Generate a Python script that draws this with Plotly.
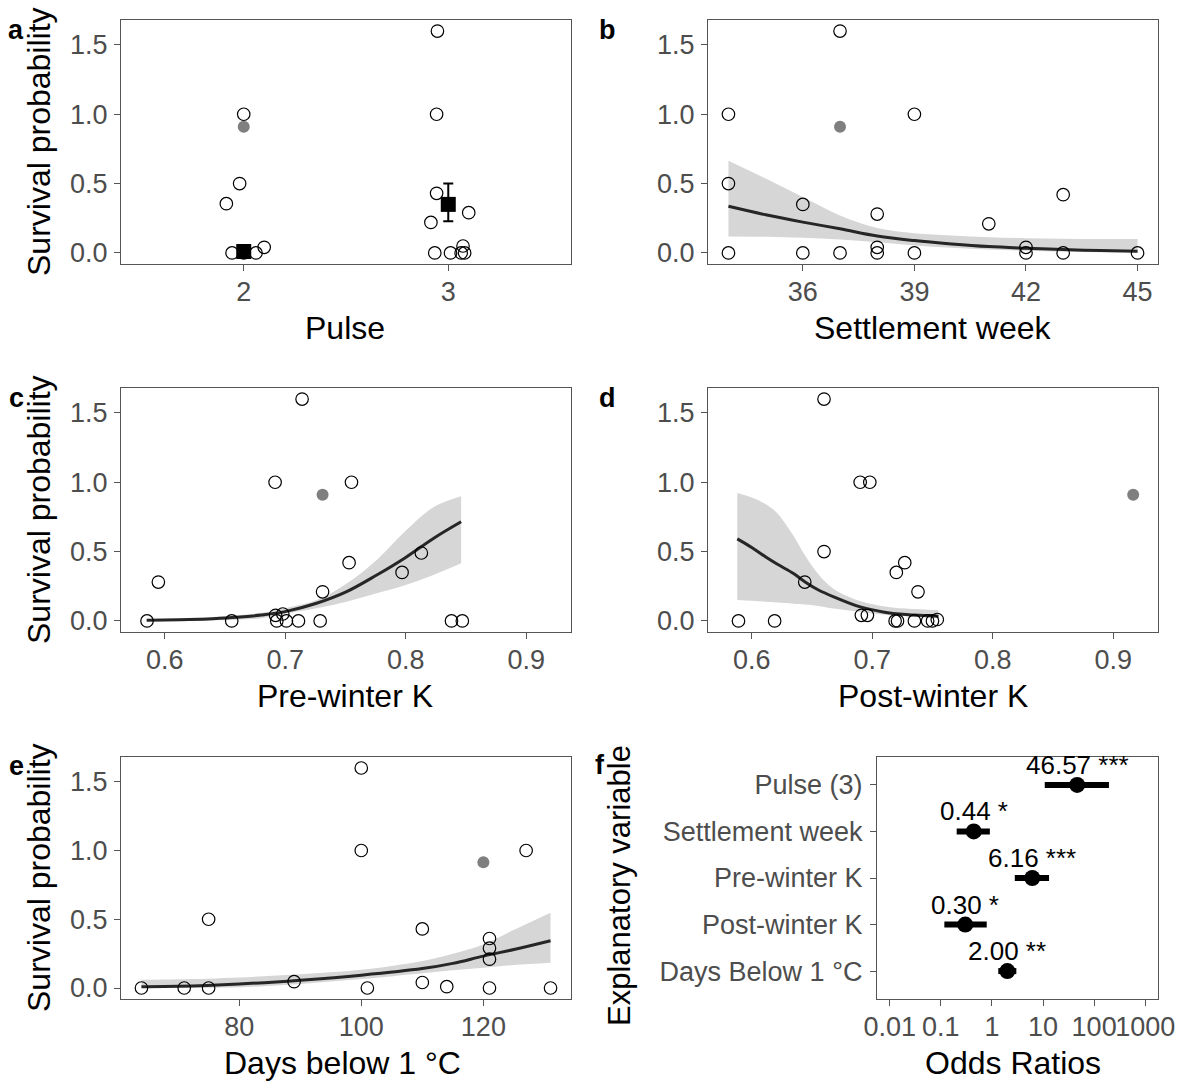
import numpy as np
import plotly.graph_objects as go

W, H = 1180, 1081
FONT = "Liberation Sans, Arial, sans-serif"

# ---------------- data ----------------
# panel a : Pulse (jittered x positions)
a_x = [2.0, 1.98, 1.915, 1.943, 2.0, 2.06, 2.10,
       2.947, 2.943, 2.943, 2.915, 3.10, 2.934, 3.011, 3.072, 3.063, 3.08]
a_y = [1.0, 0.50, 0.355, 0.0, 0.0, 0.0, 0.04,
       1.6, 1.0, 0.43, 0.22, 0.29, 0.0, 0.0, 0.05, 0.0, 0.0]
a_grey_x = [2.0]
a_grey_y = [0.91]
a_mean_x = [2, 3]
a_mean_y = [0.01, 0.35]
a_err_hi = [0.0, 0.15]
a_err_lo = [0.0, 0.122]

# panel b : Settlement week
b_x = [34, 34, 34, 36, 36, 37, 37, 38, 38, 38, 39, 39, 41, 42, 42, 43, 43, 45]
b_y = [1.0, 0.5, 0.0, 0.35, 0.0, 1.6, 0.0, 0.28, 0.04, 0.0, 1.0, 0.0, 0.21, 0.04, 0.0, 0.42, 0.0, 0.0]
b_grey_x = [37]
b_grey_y = [0.91]
b_fit_x = [34, 35, 36, 37, 38, 39, 40, 41, 42, 43, 44, 45]
b_fit_y = [0.336, 0.275, 0.222, 0.174, 0.122, 0.089, 0.065, 0.046, 0.034, 0.024, 0.017, 0.012]
b_fit_hi = [0.664, 0.536, 0.403, 0.27, 0.18, 0.142, 0.126, 0.113, 0.106, 0.103, 0.101, 0.100]
b_fit_lo = [0.118, 0.116, 0.109, 0.097, 0.077, 0.054, 0.037, 0.024, 0.015, 0.009, 0.005, 0.003]

# panel c : Pre-winter K
c_x = [0.5853, 0.5947, 0.6556, 0.6916, 0.692, 0.693, 0.698, 0.701, 0.711, 0.714,
       0.729, 0.731, 0.753, 0.755, 0.797, 0.813, 0.838, 0.847]
c_y = [0.0, 0.28, 0.0, 1.0, 0.04, 0.0, 0.05, 0.0, 0.0, 1.6,
       0.0, 0.21, 0.42, 1.0, 0.35, 0.49, 0.0, 0.0]
c_grey_x = [0.731]
c_grey_y = [0.91]
c_fit_x = [0.585, 0.6, 0.62, 0.64, 0.66, 0.68, 0.7, 0.726, 0.751, 0.776, 0.8, 0.823, 0.846]
c_fit_y = [0.004, 0.006, 0.010, 0.016, 0.026, 0.042, 0.067, 0.127, 0.211, 0.331, 0.458, 0.595, 0.715]
c_fit_hi = [0.014, 0.016, 0.021, 0.028, 0.040, 0.058, 0.091, 0.15, 0.27, 0.44, 0.65, 0.82, 0.899]
c_fit_lo = [0.0, 0.001, 0.002, 0.004, 0.009, 0.02, 0.052, 0.091, 0.139, 0.199, 0.259, 0.331, 0.415]

# panel d : Post-winter K
d_x = [0.589, 0.619, 0.644, 0.660, 0.660, 0.690, 0.691, 0.696, 0.698, 0.719,
       0.720, 0.721, 0.727, 0.735, 0.738, 0.746, 0.750, 0.754]
d_y = [0.0, 0.0, 0.28, 1.6, 0.50, 1.0, 0.04, 0.04, 1.0, 0.0,
       0.35, 0.0, 0.42, 0.0, 0.21, 0.0, 0.0, 0.01]
d_grey_x = [0.9166]
d_grey_y = [0.91]
d_fit_x = [0.588, 0.6, 0.612, 0.621, 0.635, 0.644, 0.655, 0.668, 0.69, 0.709, 0.728, 0.755]
d_fit_y = [0.592, 0.53, 0.459, 0.41, 0.34, 0.283, 0.225, 0.174, 0.101, 0.065, 0.046, 0.034]
d_fit_hi = [0.923, 0.89, 0.84, 0.778, 0.609, 0.475, 0.34, 0.23, 0.143, 0.106, 0.089, 0.077]
d_fit_lo = [0.15, 0.145, 0.138, 0.132, 0.124, 0.118, 0.108, 0.089, 0.065, 0.046, 0.034, 0.024]

# panel e : Days below 1 °C
e_x = [64, 71, 75, 75, 89, 100, 100, 101, 110, 110, 114, 121, 121, 121, 121, 127, 131]
e_y = [0.0, 0.0, 0.50, 0.0, 0.046, 1.6, 1.0, 0.0, 0.43, 0.04, 0.01, 0.36, 0.29, 0.21, 0.0, 1.0, 0.0]
e_grey_x = [120]
e_grey_y = [0.915]
e_fit_x = [64, 70, 80, 90, 100, 110, 115, 120, 125, 131]
e_fit_y = [0.01, 0.012, 0.029, 0.057, 0.093, 0.141, 0.179, 0.232, 0.28, 0.344]
e_fit_hi = [0.06, 0.063, 0.077, 0.10, 0.132, 0.196, 0.249, 0.316, 0.423, 0.548]
e_fit_lo = [0.0, 0.001, 0.005, 0.03, 0.065, 0.108, 0.13, 0.148, 0.167, 0.184]

# panel f : odds ratios
f_vars = ["Pulse (3)", "Settlement week", "Pre-winter K", "Post-winter K", "Days Below 1 °C"]
f_or = [46.57, 0.44, 6.16, 0.30, 2.00]
f_lo = [10.8, 0.204, 2.8, 0.117, 1.33]
f_hi = [195, 0.91, 13.1, 0.79, 3.0]
f_stars = ["***", "*", "***", "*", "**"]
f_ticks = [0.01, 0.1, 1, 10, 100, 1000]
f_ticktext = ["0.01", "0.1", "1", "10", "100", "1000"]

# ---------------- layout helpers ----------------
def xd(a, b):
    return [a / W, b / W]

def yd(top, bottom):
    return [1 - bottom / H, 1 - top / H]

boxes = {
    1: (121, 571, 20, 264),
    2: (708, 1158, 20, 264),
    3: (121, 571, 388, 632),
    4: (708, 1158, 388, 632),
    5: (121, 571, 757, 999),
    6: (877, 1158, 757, 999),
}

fig = go.Figure()

CIRCLE = dict(symbol="circle-open", size=12.5, color="black", line=dict(width=1.2, color="black"))
GREY = dict(symbol="circle", size=12, color="#7f7f7f")
LINE_COL = "#262626"
RIB_COL = "#d6d6d6"

def add_ribbon(i, x, y, lo, hi):
    xa, ya = ("x" if i == 1 else f"x{i}"), ("y" if i == 1 else f"y{i}")
    fig.add_trace(go.Scatter(x=x, y=lo, mode="lines", line=dict(width=0, color=RIB_COL, shape="spline"),
                             xaxis=xa, yaxis=ya, showlegend=False, hoverinfo="skip"))
    fig.add_trace(go.Scatter(x=x, y=hi, mode="lines", line=dict(width=0, color=RIB_COL, shape="spline"),
                             fill="tonexty", fillcolor=RIB_COL,
                             xaxis=xa, yaxis=ya, showlegend=False, hoverinfo="skip"))
    fig.add_trace(go.Scatter(x=x, y=y, mode="lines", line=dict(width=3, color=LINE_COL, shape="spline"),
                             xaxis=xa, yaxis=ya, showlegend=False))

def add_points(i, x, y, gx, gy):
    xa, ya = ("x" if i == 1 else f"x{i}"), ("y" if i == 1 else f"y{i}")
    fig.add_trace(go.Scatter(x=x, y=y, mode="markers", marker=CIRCLE,
                             xaxis=xa, yaxis=ya, showlegend=False))
    fig.add_trace(go.Scatter(x=gx, y=gy, mode="markers", marker=GREY,
                             xaxis=xa, yaxis=ya, showlegend=False))

# panel a
add_points(1, a_x, a_y, a_grey_x, a_grey_y)
fig.add_trace(go.Scatter(x=a_mean_x, y=a_mean_y, mode="markers",
                         marker=dict(symbol="square", size=15, color="black"),
                         error_y=dict(type="data", array=a_err_hi, arrayminus=a_err_lo,
                                      color="black", thickness=2, width=5),
                         xaxis="x", yaxis="y", showlegend=False))
# panels b-e
add_ribbon(2, b_fit_x, b_fit_y, b_fit_lo, b_fit_hi)
add_points(2, b_x, b_y, b_grey_x, b_grey_y)
add_ribbon(3, c_fit_x, c_fit_y, c_fit_lo, c_fit_hi)
add_points(3, c_x, c_y, c_grey_x, c_grey_y)
add_ribbon(4, d_fit_x, d_fit_y, d_fit_lo, d_fit_hi)
add_points(4, d_x, d_y, d_grey_x, d_grey_y)
add_ribbon(5, e_fit_x, e_fit_y, e_fit_lo, e_fit_hi)
add_points(5, e_x, e_y, e_grey_x, e_grey_y)

# panel f
for v, lo, hi in zip(f_vars, f_lo, f_hi):
    fig.add_trace(go.Scatter(x=[lo, hi], y=[v, v], mode="lines",
                             line=dict(color="black", width=6),
                             xaxis="x6", yaxis="y6", showlegend=False))
fig.add_trace(go.Scatter(x=f_or, y=f_vars, mode="markers",
                         marker=dict(symbol="circle", size=16, color="black"),
                         xaxis="x6", yaxis="y6", showlegend=False))

TICKFONT = dict(family=FONT, size=27, color="#4d4d4d")
AX = dict(showline=True, mirror=True, linecolor="#555555", linewidth=1.3,
          ticks="outside", ticklen=6, tickcolor="#555555", tickwidth=1.2,
          showgrid=False, zeroline=False, tickfont=TICKFONT, automargin=False)

layout = dict(width=W, height=H, margin=dict(l=0, r=0, t=0, b=0),
              paper_bgcolor="white", plot_bgcolor="white", showlegend=False,
              font=dict(family=FONT))

yticks = dict(tickvals=[0, 0.5, 1.0, 1.5], ticktext=["0.0", "0.5", "1.0", "1.5"],
              range=[-0.08, 1.68], ticklabelstandoff=1)
xcfg = {
    1: dict(tickvals=[2, 3], ticktext=["2", "3"], range=[1.4, 3.6]),
    2: dict(tickvals=[36, 39, 42, 45], range=[33.45, 45.55]),
    3: dict(tickvals=[0.6, 0.7, 0.8, 0.9], ticktext=["0.6", "0.7", "0.8", "0.9"], range=[0.5637, 0.9372]),
    4: dict(tickvals=[0.6, 0.7, 0.8, 0.9], ticktext=["0.6", "0.7", "0.8", "0.9"], range=[0.5637, 0.9372]),
    5: dict(tickvals=[80, 100, 120], range=[60.65, 134.35]),
    6: dict(type="log", tickvals=f_ticks, ticktext=f_ticktext, range=[-2.25, 3.25]),
}

for i, (x0, x1, y0, y1) in boxes.items():
    xn = "xaxis" if i == 1 else f"xaxis{i}"
    yn = "yaxis" if i == 1 else f"yaxis{i}"
    anc_y = "y" if i == 1 else f"y{i}"
    anc_x = "x" if i == 1 else f"x{i}"
    layout[xn] = dict(AX, domain=xd(x0, x1), anchor=anc_y, tickangle=0,
                      ticklabelstandoff=-3, **xcfg[i])
    if i == 6:
        layout[yn] = dict(AX, domain=yd(y0, y1), anchor=anc_x, type="category",
                          categoryorder="array", categoryarray=f_vars[::-1],
                          range=[-0.6, 4.6], ticklabelstandoff=2)
    else:
        layout[yn] = dict(AX, domain=yd(y0, y1), anchor=anc_x, **yticks)

fig.update_layout(**layout)

# reference line at OR = 1
fig.add_shape(type="line", xref="x6", yref="y6 domain", x0=0, x1=0, y0=0, y1=1,
              line=dict(color="#a6dcb3", width=5), layer="below")

ann = []
def txt(text, x, y, size=32, bold=False, angle=0, color="black", xanchor="center"):
    ann.append(dict(text=f"<b>{text}</b>" if bold else text, x=x / W, y=1 - y / H,
                    xref="paper", yref="paper", showarrow=False, textangle=angle,
                    xanchor=xanchor, yanchor="middle",
                    font=dict(family=FONT, size=size, color=color)))

# axis titles
txt("Pulse", 345, 328)
txt("Settlement week", 933, 328)
txt("Pre-winter K", 345, 696)
txt("Post-winter K", 933, 696)
txt("Days below 1 °C", 342, 1063)
txt("Odds Ratios", 1013, 1063)
for yc in (142, 510, 878):
    txt("Survival probability", 39, yc, angle=-90)
txt("Explanatory variable", 619, 886, angle=-90, size=31)
# panel letters
txt("a", 16, 30, size=27, bold=True)
txt("b", 607, 30, size=27, bold=True)
txt("c", 16, 398, size=27, bold=True)
txt("d", 607, 398, size=27, bold=True)
txt("e", 16, 766, size=27, bold=True)
txt("f", 600, 765, size=27, bold=True)

# odds-ratio labels
for v, o, s in zip(f_vars, f_or, f_stars):
    ann.append(dict(text=f"{o:.2f} {s}", x=float(np.log10(o)), y=v, xref="x6", yref="y6",
                    showarrow=False, yshift=20, xanchor="center", yanchor="middle",
                    font=dict(family=FONT, size=26, color="black")))

fig.update_layout(annotations=ann)
fig.write_html("out.html")
